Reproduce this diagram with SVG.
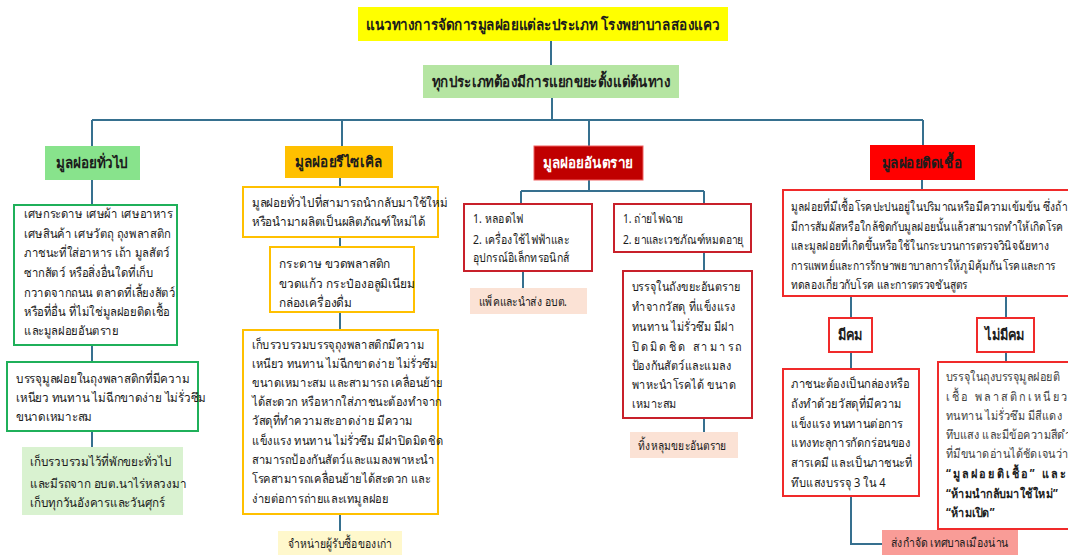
<svg xmlns="http://www.w3.org/2000/svg" width="1068" height="555" viewBox="0 0 1068 555">
<style>
text{font-family:"Noto Sans","DejaVu Sans",sans-serif;fill:#1c1c1c;font-size:12.5px}
.c{font-size:15px;font-weight:bold;text-anchor:middle}
.b{font-weight:bold}
.g{fill:#444}
.cn{fill:none;stroke:#36708f;stroke-width:2}
.gb{fill:#fff;stroke:#1fb05a;stroke-width:2}
.ob{fill:#fff;stroke:#ffc000;stroke-width:2}
.rb{fill:#fff;stroke:#c8202a;stroke-width:2}
.ib{fill:#fff;stroke:#f02a2a;stroke-width:2}
</style>
<g id="connectors">
<path class="cn" d="M551 41V65M552 98V120M92 120H923M92 120V146M342 120V146M589 120V146M923 120V145"/>
<path class="cn" d="M92 180V205M92 345V362M92 431V447"/>
<path class="cn" d="M340 178V187M340 237V247M340 312V330M340 514V531"/>
<path class="cn" d="M589 180V191M521 191H704M521 191V204M704 191V204M523 271V288M704 252V271M704 418V432"/>
<path class="cn" d="M922 180V190M851 296V318M1006 296V318M851 352V369M1006 352V362M851 496V544H883"/>
</g>
<g id="title"><rect x="358" y="7" width="370" height="34" fill="#ffff00"/><text class="c" x="543" y="30" transform="matrix(.9 0 0 1 54.3 0)">แนวทางการจัดการมูลฝอยแต่ละประเภท โรงพยาบาลสองแคว</text></g>
<g id="sort"><rect x="423" y="65" width="256" height="33" fill="#b5e5a2"/><text class="c" x="551" y="87" transform="matrix(.89 0 0 1 60.61 0)">ทุกประเภทต้องมีการแยกขยะตั้งแต่ต้นทาง</text></g>

<g id="general"><rect x="45" y="146" width="95" height="34" fill="#88e38c"/><text class="c" x="92" y="168" transform="matrix(.9 0 0 1 9.2 0)">มูลฝอยทั่วไป</text></g>
<g id="general-def"><rect class="gb" x="14" y="205" width="163" height="140"/>
<g transform="matrix(.9 0 0 1 2.4 0)">
<text x="24" y="218">เศษกระดาษ เศษผ้า เศษอาหาร</text>
<text x="24" y="238">เศษสินค้า เศษวัตถุ ถุงพลาสติก</text>
<text x="24" y="257">ภาชนะที่ใส่อาหาร เถ้า มูลสัตว์</text>
<text x="24" y="277">ซากสัตว์ หรือสิ่งอื่นใดที่เก็บ</text>
<text x="24" y="297">กวาดจากถนน ตลาดที่เลี้ยงสัตว์</text>
<text x="24" y="316">หรือที่อื่น ที่ไม่ใช่มูลฝอยติดเชื้อ</text>
<text x="24" y="335">และมูลฝอยอันตราย</text></g></g>
<g id="general-pack"><rect class="gb" x="7" y="362" width="191" height="69"/>
<g transform="matrix(.93 0 0 1 1.12 0)">
<text x="16" y="383">บรรจุมูลฝอยในถุงพลาสติกที่มีความ</text>
<text x="16" y="402">เหนียว ทนทาน ไม่ฉีกขาดง่าย ไม่รั่วซึม</text>
<text x="16" y="421">ขนาดเหมาะสม</text></g></g>
<g id="general-collect"><rect x="22" y="447" width="161" height="68" fill="#d9f2d0"/>
<g transform="matrix(.93 0 0 1 2.1 0)">
<text x="30" y="466">เก็บรวบรวมไว้ที่พักขยะทั่วไป</text>
<text x="30" y="488">และมีรถจาก อบต.นาไร่หลวงมา</text>
<text x="30" y="507">เก็บทุกวันอังคารและวันศุกร์</text></g></g>

<g id="recycle"><rect x="285" y="146" width="108" height="32" fill="#ffc000"/><text class="c" x="339" y="167" transform="matrix(.9 0 0 1 33.9 0)">มูลฝอยรีไซเคิล</text></g>
<g id="recycle-def"><rect class="ob" x="243" y="187" width="195" height="50"/>
<g transform="matrix(.93 0 0 1 17.64 0)">
<text x="252" y="207">มูลฝอยทั่วไปที่สามารถนำกลับมาใช้ใหม่</text>
<text x="252" y="226">หรือนำมาผลิตเป็นผลิตภัณฑ์ใหม่ได้</text></g></g>
<g id="recycle-items"><rect class="ob" x="270" y="247" width="144" height="65"/>
<g transform="matrix(.95 0 0 1 13.95 0)">
<text x="279" y="268">กระดาษ ขวดพลาสติก</text>
<text x="279" y="288">ขวดแก้ว กระป๋องอลูมิเนียม</text>
<text x="279" y="307">กล่องเครื่องดื่ม</text></g></g>
<g id="recycle-pack"><rect class="ob" x="243" y="330" width="195" height="184"/>
<g transform="matrix(.89 0 0 1 27.72 0)">
<text x="252" y="349">เก็บรวบรวมบรรจุถุงพลาสติกมีความ</text>
<text x="252" y="368">เหนียว ทนทาน ไม่ฉีกขาดง่าย ไม่รั่วซึม</text>
<text x="252" y="387">ขนาดเหมาะสม และสามารถ เคลื่อนย้าย</text>
<text x="252" y="406">ได้สะดวก หรือหากใส่ภาชนะต้องทำจาก</text>
<text x="252" y="425">วัสดุที่ทำความสะอาดง่าย มีความ</text>
<text x="252" y="445">แข็งแรง ทนทาน ไม่รั่วซึม มีฝาปิดมิดชิด</text>
<text x="252" y="464">สามารถป้องกันสัตว์และแมลงพาหะนำ</text>
<text x="252" y="483">โรคสามารถเคลื่อนย้ายได้สะดวก และ</text>
<text x="252" y="503">ง่ายต่อการถ่ายและเทมูลฝอย</text></g></g>
<g id="recycle-sell"><rect x="278" y="531" width="124" height="24" fill="#fff8cc"/>
<text x="288" y="548" transform="matrix(.83 0 0 1 48.96 0)">จำหน่ายผู้รับซื้อของเก่า</text></g>

<g id="hazard"><rect x="534" y="146" width="109" height="34" fill="#c00000" stroke="#f06060" stroke-width="1"/><text class="c" x="588" y="168" style="fill:#fff" transform="matrix(.9 0 0 1 58.8 0)">มูลฝอยอันตราย</text></g>
<g id="hazard-a"><rect class="rb" x="464" y="204" width="128" height="67"/>
<g transform="matrix(.84 0 0 1 75.68 0)">
<text x="473" y="223">1. หลอดไฟ</text>
<text x="473" y="244">2. เครื่องใช้ไฟฟ้าและ</text>
<text x="473" y="262">อุปกรณ์อิเล็กทรอนิกส์</text></g></g>
<g id="hazard-a-send"><rect x="470" y="288" width="117" height="26" fill="#fbe2d5"/>
<text x="479" y="306" transform="matrix(.83 0 0 1 81.43 0)">แพ็คและนำส่ง อบต.</text></g>
<g id="hazard-b"><rect class="rb" x="614" y="204" width="137" height="48"/>
<g transform="matrix(.82 0 0 1 112.14 0)">
<text x="623" y="223">1. ถ่ายไฟฉาย</text>
<text x="623" y="244">2. ยาและเวชภัณฑ์หมดอายุ</text></g></g>
<g id="hazard-b-pack"><rect class="rb" x="623" y="271" width="129" height="147"/>
<g transform="matrix(.87 0 0 1 82.16 0)">
<text x="632" y="291">บรรจุในถังขยะอันตราย</text>
<text x="632" y="311">ทำจากวัสดุ ที่แข็งแรง</text>
<text x="632" y="331">ทนทาน ไม่รั่วซึม มีฝา</text>
<text x="632" y="351" textLength="126" lengthAdjust="spacing">ปิดมิดชิด สามารถ</text>
<text x="632" y="370">ป้องกันสัตว์และแมลง</text>
<text x="632" y="389">พาหะนำโรคได้ ขนาด</text>
<text x="632" y="408">เหมาะสม</text></g></g>
<g id="hazard-b-dump"><rect x="630" y="432" width="108" height="26" fill="#fbe2d5"/>
<text x="638" y="450" transform="matrix(.82 0 0 1 114.84 0)">ทิ้งหลุมขยะอันตราย</text></g>

<g id="infect"><rect x="870" y="145" width="105" height="35" fill="#ff0000"/><text class="c" x="922" y="168" transform="matrix(.9 0 0 1 92.2 0)">มูลฝอยติดเชื้อ</text></g>
<g id="infect-def"><rect class="ib" x="783" y="190" width="300" height="106"/>
<g transform="matrix(.82 0 0 1 142.38 0)">
<text x="791" y="211">มูลฝอยที่มีเชื้อโรคปะปนอยู่ในปริมาณหรือมีความเข้มข้น ซึ่งถ้า</text>
<text x="791" y="231">มีการสัมผัสหรือใกล้ชิดกับมูลฝอยนั้นแล้วสามารถทำให้เกิดโรค</text>
<text x="791" y="250">และมูลฝอยที่เกิดขึ้นหรือใช้ในกระบวนการตรวจวินิจฉัยทาง</text>
<text x="791" y="270">การแพทย์และการรักษาพยาบาลการให้ภูมิคุ้มกันโรคและการ</text>
<text x="791" y="289">ทดลองเกี่ยวกับโรค และการตรวจชันสูตร</text></g></g>
<g id="sharp"><rect class="ib" x="829" y="318" width="43" height="34"/><text class="c" x="850" y="340" transform="matrix(.85 0 0 1 127.5 0)">มีคม</text></g>
<g id="nonsharp"><rect class="ib" x="977" y="318" width="57" height="34"/><text class="c" x="1005" y="340" transform="matrix(.85 0 0 1 150.75 0)">ไม่มีคม</text></g>
<g id="sharp-pack"><rect class="ib" x="783" y="369" width="136" height="127"/>
<g transform="matrix(.89 0 0 1 87.01 0)">
<text x="791" y="388">ภาชนะต้องเป็นกล่องหรือ</text>
<text x="791" y="408">ถังทำด้วยวัสดุที่มีความ</text>
<text x="791" y="428">แข็งแรง ทนทานต่อการ</text>
<text x="791" y="447">แทงทะลุการกัดกร่อนของ</text>
<text x="791" y="467">สารเคมี และเป็นภาชนะที่</text>
<text x="791" y="487">ทึบแสงบรรจุ 3 ใน 4</text></g></g>
<g id="nonsharp-pack"><rect class="ib" x="938" y="362" width="140" height="167"/>
<g transform="matrix(.87 0 0 1 122.98 0)">
<text x="946" y="381" class="g">บรรจุในถุงบรรจุมูลฝอยติ</text>
<text x="946" y="401" class="g" textLength="140" lengthAdjust="spacing">เชื้อ พลาสติกเหนียว</text>
<text x="946" y="420" class="g">ทนทาน ไม่รั่วซึม มีสีแดง</text>
<text x="946" y="439" class="g">ทึบแสง และมีข้อความสีดำ</text>
<text x="946" y="458" class="g">ที่มีขนาดอ่านได้ชัดเจนว่า</text>
<text x="946" y="478" class="b" textLength="137" lengthAdjust="spacing">“มูลฝอยติเชื้อ” และ</text>
<text x="946" y="498" class="b">“ห้ามนำกลับมาใช้ใหม่”</text>
<text x="946" y="517" class="b">“ห้ามเปิด”</text></g></g>
<g id="infect-dispose"><rect x="882" y="530" width="136" height="25" fill="#f99c97"/>
<text x="891" y="547" transform="matrix(.84 0 0 1 142.56 0)">ส่งกำจัด เทศบาลเมืองน่าน</text></g>
</svg>
